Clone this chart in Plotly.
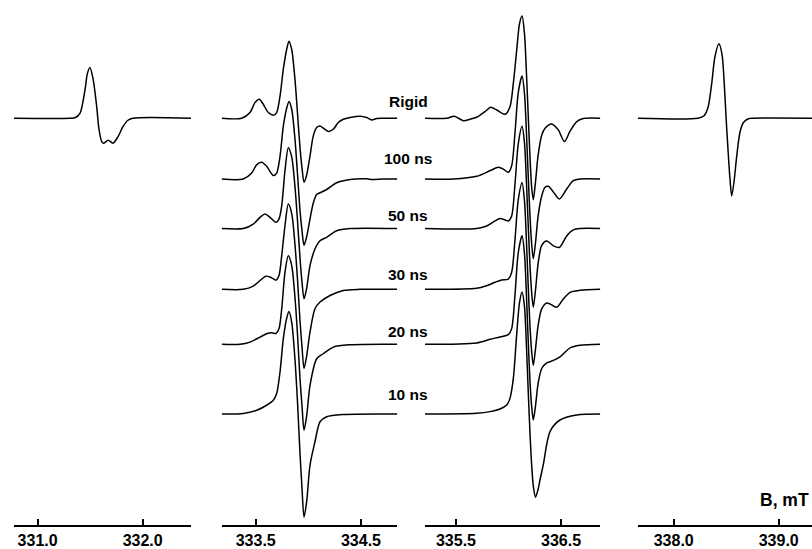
import plotly.graph_objects as go

# ---------------- data (B in mT, amplitude in arbitrary units) ----------------
# Panel 1: low-field line
B_P1 = [330.774, 331.308, 331.355, 331.403, 331.450, 331.474, 331.498, 331.527, 331.562,
        331.584, 331.610, 331.627, 331.672, 331.717, 331.765, 331.812, 331.860, 331.908, 332.460]
I_P1 = [0, 0, 0.5, 5, 28, 45, 51, 40, 12, -11, -23.5, -25, -22, -25, -18.5, -8.5, -2, 0, 0]

# Panel 4: high-field line
B_P4 = [337.657, 338.231, 338.289, 338.327, 338.362, 338.393, 338.431, 338.460, 338.479, 338.498,
        338.515, 338.536, 338.552, 338.574, 338.600, 338.631, 338.663, 338.710, 338.755, 339.317]
I_P4 = [0, 0, 2.5, 11, 35, 62, 74.7, 64, 39, 2, -28, -61, -78, -64, -38, -14, -4.5, -0.5, 0, 0]

# Panel 2 spectra
B_P2_RIGID = [333.177, 333.367, 333.446, 333.493, 333.534, 333.572, 333.620, 333.667, 333.699, 333.731,
              333.762, 333.794, 333.816, 333.842, 333.873, 333.897, 333.921, 333.940, 333.959, 333.984,
              334.016, 334.047, 334.079, 334.111, 334.142, 334.190, 334.237, 334.284, 334.332, 334.396,
              334.491, 334.554, 334.602, 334.649, 334.712, 334.845]
I_P2_RIGID = [0, 0, 5.7, 15.7, 19, 14, 5.7, 3, 5.7, 22.3, 49, 69, 77.3, 69, 39, 5, -30, -50, -64.3, -57,
              -37.7, -17.7, -9.3, -7.7, -10, -13.3, -11, -4.3, -1, 0.7, 2, 0.7, -1.7, -0.3, 0, 0]

B_P2_100 = [333.177, 333.382, 333.462, 333.510, 333.557, 333.604, 333.667, 333.699, 333.731, 333.762,
            333.794, 333.816, 333.842, 333.873, 333.897, 333.921, 333.940, 333.959, 333.984, 334.016,
            334.047, 334.079, 334.111, 334.174, 334.269, 334.396, 334.554, 334.602, 334.712, 334.845]
I_P2_100 = [0, 0, 6, 14.5, 16.8, 12.8, 3.5, 6, 22.8, 52.8, 71, 77.8, 70, 40, 5, -32, -52, -66.5, -58, -40,
            -24, -15.5, -13.8, -10.5, -3.8, -0.5, 0.2, -0.5, 0, 0]

B_P2_50 = [333.177, 333.382, 333.477, 333.541, 333.588, 333.636, 333.693, 333.721, 333.747, 333.778,
           333.810, 333.842, 333.873, 333.897, 333.921, 333.940, 333.959, 333.984, 334.016, 334.063,
           334.111, 334.174, 334.269, 334.396, 334.845]
I_P2_50 = [0, 0, 4.5, 11.2, 14.5, 11.2, 6.2, 9.5, 22.8, 58, 81.2, 72, 42, 8, -30, -54, -70.5, -60, -37,
           -20.5, -12.2, -8.8, -2.2, 0, 0]

B_P2_30 = [333.177, 333.382, 333.477, 333.541, 333.598, 333.652, 333.693, 333.721, 333.747, 333.778,
           333.810, 333.842, 333.873, 333.897, 333.921, 333.940, 333.959, 333.984, 334.016, 334.063,
           334.111, 334.206, 334.332, 334.491, 334.845]
I_P2_30 = [0, 0, 3.2, 8.8, 13.2, 11.5, 9.2, 13.8, 33.8, 63.8, 85.5, 76, 45, 10, -32, -58, -79.5, -67,
           -42.8, -19.5, -12.8, -6.2, -1.2, 0, 0]

B_P2_20 = [333.177, 333.351, 333.446, 333.541, 333.604, 333.652, 333.693, 333.721, 333.747, 333.778,
           333.810, 333.842, 333.873, 333.897, 333.921, 333.940, 333.959, 333.984, 334.016, 334.079,
           334.142, 334.237, 334.396, 334.845]
I_P2_20 = [0, 0, 2.2, 7.2, 10.5, 11.5, 10.8, 15.5, 35.5, 72.2, 88.8, 79, 47, 10, -35, -62, -86.2, -72,
           -41.2, -14.5, -9.5, -2.8, -0.5, 0]

B_P2_10 = [333.177, 333.382, 333.510, 333.604, 333.667, 333.699, 333.731, 333.762, 333.794, 333.816,
           333.842, 333.873, 333.897, 333.921, 333.940, 333.959, 333.984, 334.016, 334.063, 334.111,
           334.174, 334.332, 334.845]
I_P2_10 = [0, 0.5, 3.8, 8.8, 13.8, 20.5, 42.2, 75.5, 96, 102.8, 92, 55, 12, -40, -75, -103.5, -88,
           -51.2, -27.8, -7.8, -2.8, -0.5, 0]

# Panel 3 spectra
B_P3_RIGID = [335.205, 335.411, 335.484, 335.570, 335.633, 335.697, 335.776, 335.830, 335.888, 335.967,
              336.014, 336.046, 336.078, 336.105, 336.129, 336.152, 336.171, 336.189, 336.205, 336.221,
              336.236, 336.257, 336.281, 336.316, 336.348, 336.411, 336.474, 336.533, 336.586, 336.650,
              336.712, 336.874]
I_P3_RIGID = [0, 0, 2, -2.4, -1, 1, 6.6, 11, 8.3, 4, 11.6, 35, 68.3, 95, 102.6, 85, 45, 0, -40, -70,
              -81.7, -64, -38, -17, -10, -5.7, -11.7, -23.4, -13, -3.4, -0.3, 0]

B_P3_100 = [335.205, 335.474, 335.697, 335.824, 335.903, 335.950, 335.998, 336.030, 336.062, 336.093,
            336.129, 336.152, 336.171, 336.189, 336.205, 336.221, 336.236, 336.257, 336.281, 336.316,
            336.348, 336.379, 336.427, 336.484, 336.554, 336.617, 336.681, 336.874]
I_P3_100 = [0, 0, 2.7, 8.3, 11.7, 10, 6.7, 13.3, 46.7, 86.7, 103.3, 86, 46, 0, -38, -66, -80, -64, -38,
            -17, -8.3, -7.3, -13, -20, -10, -1.7, 0, 0]

B_P3_50 = [335.205, 335.697, 335.792, 335.871, 335.919, 335.967, 335.998, 336.030, 336.062, 336.093,
           336.129, 336.152, 336.171, 336.189, 336.205, 336.221, 336.236, 336.257, 336.281, 336.316,
           336.364, 336.427, 336.484, 336.554, 336.617, 336.681, 336.874]
I_P3_50 = [0, 0, 2.6, 7.6, 10, 8.6, 7.6, 12.6, 45, 85, 102.6, 86, 46, 0, -38, -65, -79, -62, -36, -17,
           -12.4, -17.4, -19, -7.4, -1.4, 0, 0]

B_P3_30 = [335.205, 335.697, 335.792, 335.871, 335.935, 335.998, 336.030, 336.062, 336.093, 336.129,
           336.152, 336.171, 336.189, 336.205, 336.221, 336.236, 336.257, 336.281, 336.316, 336.364,
           336.395, 336.459, 336.522, 336.586, 336.681, 336.874]
I_P3_30 = [0, 1, 3.6, 7, 9.3, 10.3, 17, 50, 90, 107, 89, 48, 0, -38, -63, -76.4, -60, -37, -19.7,
           -13.7, -14.7, -18, -9.7, -3, -1, 0]

B_P3_20 = [335.205, 335.697, 335.824, 335.919, 335.998, 336.030, 336.062, 336.093, 336.129, 336.152,
           336.171, 336.189, 336.205, 336.221, 336.236, 336.257, 336.281, 336.316, 336.364, 336.395,
           336.490, 336.586, 336.681, 336.874]
I_P3_20 = [0, 1.4, 5, 7.4, 9.7, 15.7, 50, 92, 109, 91, 49, 0, -38, -63, -76, -62, -40, -24.3, -18.6,
           -17.6, -12.6, -3.6, -1, 0]

B_P3_10 = [335.205, 335.697, 335.824, 335.919, 335.983, 336.014, 336.046, 336.078, 336.105, 336.129,
           336.152, 336.171, 336.189, 336.205, 336.221, 336.236, 336.257, 336.281, 336.300, 336.331,
           336.395, 336.490, 336.650, 336.874]
I_P3_10 = [0, 0.7, 2.4, 5, 9, 15.7, 35.7, 80, 112, 122.4, 108, 68, 20, -20, -52, -72, -83.5, -76, -66,
           -51, -17.6, -6, -1, 0]

# stacking offsets and labels
LABELS = ["Rigid", "100 ns", "50 ns", "30 ns", "20 ns", "10 ns"]
OFFSETS = [408.3, 347.3, 297.6, 236.6, 181.4, 111.4]
LABEL_Y = [425, 368, 311, 251, 194, 131]

# axis ranges and ticks
RANGE_1 = [330.775, 332.46]
RANGE_2 = [333.177, 334.845]
RANGE_3 = [335.205, 336.874]
RANGE_4 = [337.657, 339.317]
TICKS_1 = [331.0, 332.0]
TICKS_2 = [333.5, 334.5]
TICKS_3 = [335.5, 336.5]
TICKS_4 = [338.0, 339.0]

# ---------------- figure ----------------
W, H = 812, 549
fig = go.Figure()

def add(bs, amps, off, xa):
    fig.add_trace(go.Scatter(
        x=bs, y=[off + a for a in amps], mode="lines",
        line=dict(color="black", width=1.5, shape="spline", smoothing=0.8),
        xaxis=xa, yaxis="y", hoverinfo="skip", showlegend=False))

add(B_P1, I_P1, OFFSETS[0], "x")
add(B_P4, I_P4, OFFSETS[0], "x4")
P2 = [(B_P2_RIGID, I_P2_RIGID), (B_P2_100, I_P2_100), (B_P2_50, I_P2_50),
      (B_P2_30, I_P2_30), (B_P2_20, I_P2_20), (B_P2_10, I_P2_10)]
P3 = [(B_P3_RIGID, I_P3_RIGID), (B_P3_100, I_P3_100), (B_P3_50, I_P3_50),
      (B_P3_30, I_P3_30), (B_P3_20, I_P3_20), (B_P3_10, I_P3_10)]
for k, (b, i) in enumerate(P2):
    add(b, i, OFFSETS[k], "x2")
for k, (b, i) in enumerate(P3):
    add(b, i, OFFSETS[k], "x3")

FONT = "Liberation Sans, Arial, sans-serif"

def xax(domain, rng, ticks):
    return dict(domain=domain, range=rng, anchor="y",
                showline=True, linecolor="black", linewidth=2,
                ticks="inside", ticklen=6, tickwidth=2, tickcolor="black",
                tickvals=ticks, ticktext=[f"{t:.1f}" for t in ticks],
                tickfont=dict(family=FONT, size=16, color="black", weight="bold"),
                showgrid=False, zeroline=False, fixedrange=True)

for k, lab in enumerate(LABELS):
    fig.add_annotation(x=408 / W, xref="paper", y=LABEL_Y[k], yref="y", text=lab,
                       showarrow=False, xanchor="center", yanchor="middle",
                       font=dict(family=FONT, size=15.5, color="black", weight="bold"))

fig.add_annotation(x=811 / W, xref="paper", y=25, yref="y", text="B, mT",
                   showarrow=False, xanchor="right", yanchor="middle",
                   font=dict(family=FONT, size=17.5, color="black", weight="bold"))

fig.update_layout(
    width=W, height=H,
    margin=dict(l=0, r=0, t=0, b=22, pad=0),
    paper_bgcolor="white", plot_bgcolor="white",
    xaxis=xax([14 / W, 191 / W], RANGE_1, TICKS_1),
    xaxis2=xax([221.7 / W, 397.3 / W], RANGE_2, TICKS_2),
    xaxis3=xax([425 / W, 600.3 / W], RANGE_3, TICKS_3),
    xaxis4=xax([637.7 / W, 1.0], RANGE_4, TICKS_4),
    yaxis=dict(range=[0, 527], visible=False, fixedrange=True),
    showlegend=False,
)

fig.write_html("out.html")
